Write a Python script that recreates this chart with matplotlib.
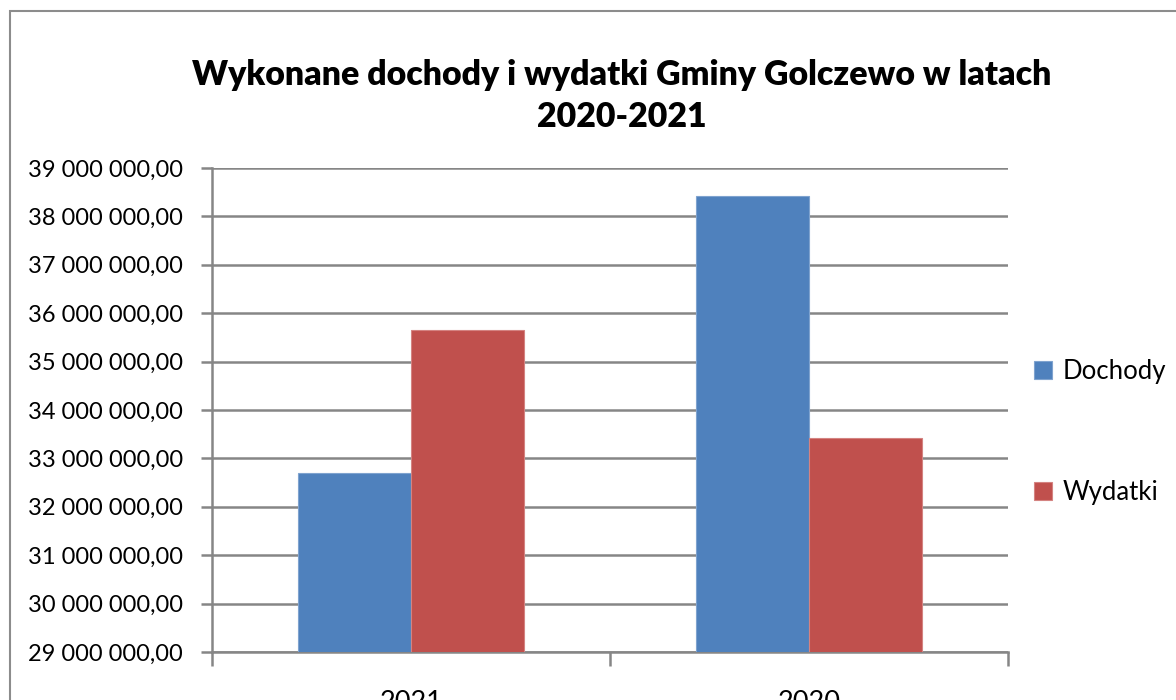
import matplotlib

matplotlib.use("Agg")
import matplotlib.pyplot as plt  # noqa: E402
from matplotlib.patches import Rectangle  # noqa: E402
from matplotlib.ticker import FuncFormatter, MultipleLocator  # noqa: E402

years = ["2021", "2020"]
dochody = [32_690_000, 38_420_000]
wydatki = [35_650_000, 33_430_000]
series_names = ["Dochody", "Wydatki"]

BLUE = "#4F81BD"
RED = "#C0504D"
GRID = "#868686"

plt.rcParams["font.family"] = ["Lato", "DejaVu Sans"]


def pl_number(value, _pos=None):
    text = f"{value:,.2f}"
    return text.replace(",", " ").replace(".", ",")


fig = plt.figure(figsize=(11.76, 7.0), dpi=100)
ax = fig.add_axes([212 / 1176, 1 - 652 / 700, 796 / 1176, 484 / 700])

# outer chart frame (partly cut off at right and bottom like the source)
fig.patches.append(Rectangle((10 / 1176, -0.1), 1.2, 1 - 11 / 700 + 0.1,
                             transform=fig.transFigure, fill=False,
                             edgecolor="#8C8C8C", linewidth=1.5))

width = 0.285
xs = range(len(years))
ax.bar([x - width / 2 for x in xs], dochody, width, color=BLUE,
       edgecolor="#7FA3CF", linewidth=0.8, label=series_names[0], zorder=3)
ax.bar([x + width / 2 for x in xs], wydatki, width, color=RED,
       edgecolor="#D48381", linewidth=0.8, label=series_names[1], zorder=3)

ax.set_xlim(-0.5, 1.5)
ax.set_ylim(29_000_000, 39_000_000)
ax.yaxis.set_major_locator(MultipleLocator(1_000_000))
ax.yaxis.set_major_formatter(FuncFormatter(pl_number))
ax.grid(axis="y", color=GRID, linewidth=1.8, zorder=0)

ax.set_xticks(list(xs))
ax.set_xticklabels(years)
ax.set_xticks([-0.5, 0.5, 1.5], minor=True)
ax.tick_params(axis="x", which="major", length=0, pad=27, labelsize=19.5)
ax.tick_params(axis="x", which="minor", length=10, width=1.8, color=GRID)
ax.tick_params(axis="y", length=8, width=1.8, color=GRID, labelsize=17, pad=13)

for side in ("top", "right"):
    ax.spines[side].set_visible(False)
for side in ("left", "bottom"):
    ax.spines[side].set_color(GRID)
    ax.spines[side].set_linewidth(1.8)

fig.text(622 / 1176, 1 - 96 / 700,
         "Wykonane dochody i wydatki Gminy Golczewo w latach\n2020-2021",
         ha="center", va="center", fontsize=24.4, fontweight="heavy",
         linespacing=1.38)

ax.legend(loc="center left", bbox_to_anchor=(1034 / 1176, 1 - 432 / 700),
          bbox_transform=fig.transFigure, frameon=False, fontsize=18.5,
          labelspacing=3.7, handlelength=0.7, handleheight=0.7,
          handletextpad=0.4, borderpad=0, borderaxespad=0)

fig.savefig("out.png", dpi=100)
